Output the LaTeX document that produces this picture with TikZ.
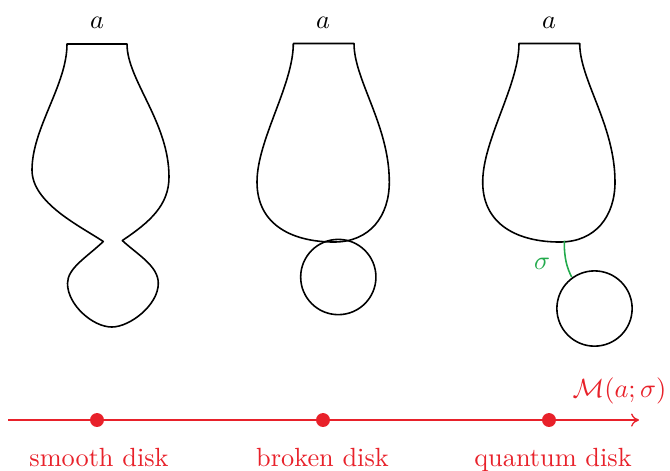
\documentclass[tikz,border=0pt]{standalone}
\usetikzlibrary{arrows.meta}
\definecolor{axisred}{RGB}{232,33,42}
\definecolor{sigmagreen}{RGB}{34,170,76}
\tikzset{
  outline/.style={line width=0.6pt, line join=round},
  bubble/.style={draw, circle, line width=0.6pt, minimum size=28.6pt, inner sep=0pt},
  reddot/.style={circle, fill=axisred, inner sep=0pt, minimum size=5.3pt},
  redlabel/.style={text=axisred, anchor=base},
  toplabel/.style={inner sep=0pt},
}
\begin{document}
\begin{tikzpicture}[x=0.38pt, y=-0.38pt]
\useasboundingbox (0,0) rectangle (670,470);

% ---- shape 1: smooth disk ----
\draw[outline] (67,44) -- (127,44)
  .. controls (127,80) and (169,122) .. (169,177)
  .. controls (169,205) and (150,222) .. (122.3,240.5)
  .. controls (138,255) and (158.3,266) .. (158.3,283.3)
  .. controls (158.3,305) and (130,327) .. (111.7,327)
  .. controls (93,327) and (67.5,305) .. (67.5,283.3)
  .. controls (67.5,268) and (87,257) .. (103.3,241.5)
  .. controls (80,226) and (32,203) .. (32,170)
  .. controls (32,128) and (67,85) .. (67,44)
  -- cycle;
\node[toplabel] (a1) at (97,23) {$a$};

% ---- shape 2: broken disk ----
\draw[outline] (293.3,43.5) -- (354,43.5)
  .. controls (354,80) and (389.3,125) .. (389.3,182)
  .. controls (389.3,216) and (370,242) .. (334,242)
  .. controls (294,242) and (257,226) .. (257,182)
  .. controls (257,140) and (293.3,85) .. (293.3,43.5)
  -- cycle;
\node[bubble] (c2) at (338.3,277) {};
\node[toplabel] (a2) at (323,23) {$a$};

% ---- shape 3: quantum disk ----
\begin{scope}[shift={(225.7,0)}]
\draw[outline] (293.3,43.5) -- (354,43.5)
  .. controls (354,80) and (389.3,125) .. (389.3,182)
  .. controls (389.3,216) and (370,242) .. (334,242)
  .. controls (294,242) and (257,226) .. (257,182)
  .. controls (257,140) and (293.3,85) .. (293.3,43.5)
  -- cycle;
\end{scope}
\coordinate (g1) at (564.3,240.5);
\node[bubble] (c3) at (594.5,308.5) {};
\coordinate (g2) at (571.7,277);
\draw[sigmagreen, line width=0.6pt] (g1) .. controls (564,258) and (567,268) .. (g2);
\node[toplabel, text=sigmagreen] (sig) at (542,264) {$\sigma$};
\node[toplabel] (a3) at (549,23) {$a$};

% ---- axis ----
\coordinate (ax0) at (8,420);
\coordinate (ax1) at (639,420);
\draw[axisred, line width=0.5pt, -{To[length=3pt,width=5pt]}] (ax0) -- (ax1);
\node[reddot] (d1) at (97,420) {};
\node[reddot] (d2) at (323,420) {};
\node[reddot] (d3) at (549,420) {};
\node[redlabel] (l1) at (99,466) {smooth disk};
\node[redlabel] (l2) at (322.5,466) {broken disk};
\node[redlabel] (l3) at (553,466) {quantum disk};
\node[redlabel] (m) at (619.5,397) {$\mathcal{M}(a;\sigma)$};
\end{tikzpicture}
\end{document}
